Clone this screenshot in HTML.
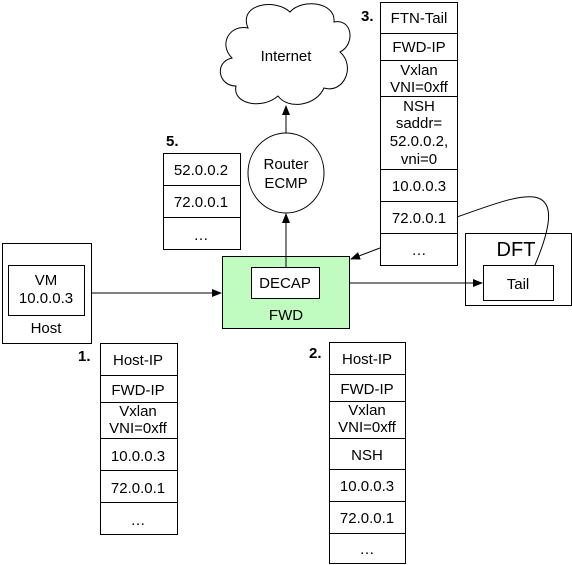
<!DOCTYPE html>
<html><head><meta charset="utf-8"><style>
html,body{margin:0;padding:0;background:#fff;}
svg{display:block;font-family:"Liberation Sans",Arial,sans-serif;}
text{font-size:15px;fill:#000;}
</style></head><body>
<svg width="572" height="565" viewBox="0 0 572 565" xmlns="http://www.w3.org/2000/svg">
<defs><marker id="a" markerWidth="10" markerHeight="8" refX="9" refY="4" orient="auto" markerUnits="userSpaceOnUse"><path d="M0,0 L10,4 L0,8 z" fill="#000"/></marker></defs>
<g fill="none" stroke="#000" stroke-width="1">
<path d="M248,28 C238,4 275,-2 290,12 C302,-2 336,2 334,22 C352,18 356,44 340,52 C356,66 344,94 324,88 C316,106 288,110 278,96 C262,110 232,104 236,86 C218,86 214,62 232,58 C218,44 230,24 248,28 Z" fill="#fff"/>
<ellipse cx="286" cy="173" rx="38" ry="40" fill="#fff"/>
<line x1="286" y1="133" x2="286" y2="106" marker-end="url(#a)"/>
<rect x="222.5" y="256.5" width="127" height="72" fill="#c0fcc0"/>
<rect x="251.5" y="267.5" width="68" height="31" fill="#fff"/>
<line x1="286" y1="267" x2="286" y2="214" marker-end="url(#a)"/>
<rect x="2.5" y="243.5" width="89" height="100"/>
<rect x="8.5" y="265.5" width="76" height="50"/>
<line x1="91" y1="293" x2="221" y2="293" marker-end="url(#a)"/>
<line x1="349" y1="283" x2="482" y2="283" marker-end="url(#a)"/>
<rect x="465.5" y="233.5" width="106" height="72"/>
<rect x="483.5" y="265.5" width="70" height="35"/>
<path d="M457,217 C520,195 575,170 535,265"/>
<line x1="380" y1="248" x2="351" y2="259" marker-end="url(#a)"/>
<rect x="380.5" y="2.5" width="77" height="263"/>
<path d="M380,33.5H457M380,60.5H457M380,96.5H457M380,169.5H457M380,201.5H457M380,233.5H457"/>
<rect x="163.5" y="153.5" width="77" height="96"/>
<path d="M163,185.5H240M163,217.5H240"/>
<rect x="100.5" y="343.5" width="77" height="191"/>
<path d="M100,375.5H177M100,402.5H177M100,438.5H177M100,470.5H177M100,502.5H177"/>
<rect x="329.5" y="342.5" width="76" height="221"/>
<path d="M329,374.5H405M329,401.5H405M329,438.5H405M329,469.5H405M329,501.5H405M329,533.5H405"/>
</g>
<g text-anchor="middle">
<text x="286" y="61">Internet</text>
<text x="286" y="169">Router</text><text x="286" y="188">ECMP</text>
<text x="285" y="288">DECAP</text>
<text x="286" y="320">FWD</text>
<text x="46" y="285">VM</text><text x="46" y="303">10.0.0.3</text>
<text x="46" y="333">Host</text>
<text x="516" y="256" style="font-size:20px">DFT</text>
<text x="518" y="289">Tail</text>
<text x="419" y="23">FTN-Tail</text>
<text x="419" y="52">FWD-IP</text>
<text x="419" y="75">Vxlan</text><text x="419" y="92">VNI=0xff</text>
<text x="419" y="111">NSH</text><text x="419" y="128">saddr=</text><text x="419" y="146">52.0.0.2,</text><text x="419" y="164">vni=0</text>
<text x="419" y="191">10.0.0.3</text>
<text x="419" y="223">72.0.0.1</text>
<text x="419" y="255">…</text>
<text x="201" y="175">52.0.0.2</text>
<text x="201" y="207">72.0.0.1</text>
<text x="201" y="240">…</text>
<text x="138" y="365">Host-IP</text>
<text x="138" y="395">FWD-IP</text>
<text x="138" y="416">Vxlan</text><text x="138" y="433">VNI=0xff</text>
<text x="138" y="461">10.0.0.3</text>
<text x="138" y="493">72.0.0.1</text>
<text x="138" y="525">…</text>
<text x="367" y="364">Host-IP</text>
<text x="367" y="394">FWD-IP</text>
<text x="367" y="415">Vxlan</text><text x="367" y="432">VNI=0xff</text>
<text x="367" y="460">NSH</text>
<text x="367" y="491">10.0.0.3</text>
<text x="367" y="523">72.0.0.1</text>
<text x="367" y="554">…</text>
</g>
<text x="361" y="21" style="font-weight:bold">3.</text>
<text x="166" y="146" style="font-weight:bold">5.</text>
<text x="78" y="361" style="font-weight:bold">1.</text>
<text x="309" y="358" style="font-weight:bold">2.</text>
</svg>
</body></html>
